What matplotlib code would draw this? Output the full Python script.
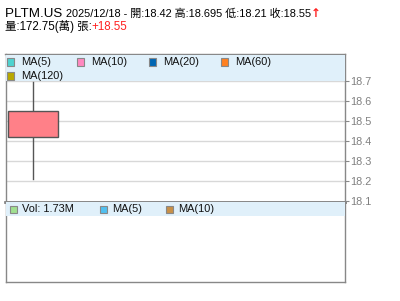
import matplotlib
matplotlib.use('Agg')
import matplotlib.pyplot as plt
from matplotlib.patches import Rectangle

plt.rcParams['font.family'] = ['Liberation Sans', 'Noto Sans CJK TC', 'DejaVu Sans']

# data
symbol = 'PLTM.US'
date = '2025/12/18'
opens = [18.42]
highs = [18.695]
lows = [18.21]
closes = [18.55]
volume_label = '1.73M'
volume_wan = '172.75'
change = '+18.55'
yticks = [18.1, 18.2, 18.3, 18.4, 18.5, 18.6, 18.7]
ma_names = ['MA(5)', 'MA(10)', 'MA(20)', 'MA(60)', 'MA(120)']
ma_colors = ['#4dd3d0', '#ff88c0', '#0066b3', '#ff8020', '#b8a800']
vol_names = ['Vol: ' + volume_label, 'MA(5)', 'MA(10)']
vol_colors = ['#a0e090', '#50c0f0', '#c89048']

W, H = 400, 301
fig = plt.figure(figsize=(W / 100, H / 100), dpi=100)


def px_rect(x0, y0, x1, y1):
    return [x0 / W, 1 - y1 / H, (x1 - x0) / W, (y1 - y0) / H]


def fx(x):
    return x / W


def fy(y):
    return 1 - y / H


border = '#888888'
band = '#e0f0fa'

# main price panel
ax = fig.add_axes(px_rect(5.5, 54, 345, 201.5))
ax.set_ylim(18.1, 18.835)
ax.set_xlim(-0.33, 3.71)
for v in yticks[1:]:
    ax.axhline(v, color='#d8d8d8', lw=1, zorder=0)
for i in range(len(opens)):
    ax.plot([i, i], [lows[i], highs[i]], color='#555555', lw=1, zorder=2)
    b = min(opens[i], closes[i])
    ax.add_patch(Rectangle((i - 0.3, b), 0.6, abs(closes[i] - opens[i]),
                           facecolor='#ff8088', edgecolor='#555555', lw=1, zorder=3))
ax.set_xticks([])
ax.yaxis.tick_right()
ax.set_yticks(yticks)
ax.set_yticklabels([f'{v:.1f}' for v in yticks])
ax.tick_params(axis='y', colors='#888888', labelcolor='#808080', length=3,
               labelsize=7.8, pad=1)
for s in ax.spines.values():
    s.set_color(border)
    s.set_linewidth(1)
ax.spines['bottom'].set_linewidth(2)

# legend band in main panel
fig.patches.append(Rectangle((fx(6), fy(81)), fx(338.5), 26 / H,
                             transform=fig.transFigure, facecolor=band,
                             edgecolor='none', zorder=5))
ma_pos = [(7, 62), (77, 62), (149, 62), (221, 62), (7, 76)]
for (x, y), name, c in zip(ma_pos, ma_names, ma_colors):
    fig.patches.append(Rectangle((fx(x), fy(y + 3.5)), 7 / W, 7 / H,
                                 transform=fig.transFigure, facecolor=c,
                                 edgecolor='#888888', lw=0.8, zorder=6))
    fig.text(fx(x + 14), fy(y), name, fontsize=7.9, va='center', ha='left',
             color='#111111', zorder=7)

# volume panel
vax = fig.add_axes(px_rect(5.5, 201.5, 345, 282))
vax.set_xticks([])
vax.set_yticks([])
for s in vax.spines.values():
    s.set_color(border)
    s.set_linewidth(1)
vax.spines['top'].set_linewidth(2)
fig.patches.append(Rectangle((fx(6), fy(216)), fx(338.5), 14 / H,
                             transform=fig.transFigure, facecolor=band,
                             edgecolor='none', zorder=5))
vol_pos = [10, 100, 166]
for x, name, c in zip(vol_pos, vol_names, vol_colors):
    fig.patches.append(Rectangle((fx(x), fy(212.5)), 7 / W, 7 / H,
                                 transform=fig.transFigure, facecolor=c,
                                 edgecolor='#888888', lw=0.8, zorder=6))
    fig.text(fx(x + 12), fy(209.5), name, fontsize=7.9, va='center', ha='left',
             color='#111111', zorder=7)

# header text
t1 = fig.text(fx(5), fy(17), symbol + ' ', fontsize=9.6, va='baseline', ha='left')
fig.canvas.draw()
bb = t1.get_window_extent()
header = f'{date} - 開:{opens[0]} 高:{highs[0]} 低:{lows[0]} 收:{closes[0]}'
t2 = fig.text(bb.x1 / W, fy(17), header, fontsize=7.95, va='baseline', ha='left')
fig.canvas.draw()
bb2 = t2.get_window_extent()
fig.text(bb2.x1 / W, fy(17), '↑', fontsize=8.5, va='baseline', ha='left',
         color='#ff2020', fontweight='bold', family=['DejaVu Sans'])
t3 = fig.text(fx(5), fy(30), f'量:{volume_wan}(萬) 張:', fontsize=8.3,
              va='baseline', ha='left')
fig.canvas.draw()
bb3 = t3.get_window_extent()
fig.text(bb3.x1 / W, fy(30), change, fontsize=8.3, va='baseline', ha='left',
         color='#ff2020')

fig.savefig('out.png', dpi=100, facecolor='white')
